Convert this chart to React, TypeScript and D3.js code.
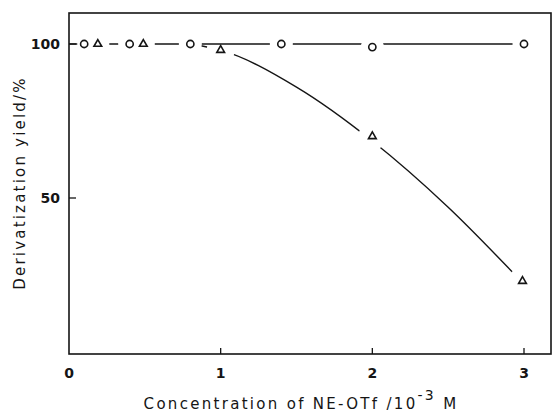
import React from "react";
import * as d3 from "d3";

// measured points (circles and triangles)
const circleX = [0.1, 0.4, 0.8, 1.4, 2.0, 3.0];
const circleY = [100, 100, 100, 100, 99, 100];
const triX = [0.19, 0.49, 1.0, 2.0, 2.99];
const triY = [100, 100, 98, 70, 23];

// hand-drawn fit curves
const flatFitX = [0, 3];
const flatFitY = [100, 100];
const curveFitX = [0.8, 1.0, 1.5, 2.0, 2.5, 3.0];
const curveFitY = [100, 98, 86, 68.5, 47, 22];

const xTicks = [0, 1, 2, 3];
const yTicks = [50, 100];

const W = 553;
const H = 413;
const left = 69;
const right = 551;
const top = 13;
const bottom = 354;
const font = "'DejaVu Sans', sans-serif";
const ink = "#151515";

const App = () => {
  const x = d3.scaleLinear().domain([0, 3]).range([69, 524]);
  const y = d3.scaleLinear().domain([0, 100]).range([352, 44]);

  const circles = circleX.map((v, i) => ({ x: v, y: circleY[i] }));
  const tris = triX.map((v, i) => ({ x: v, y: triY[i] }));

  const curvePath =
    d3
      .line<number>()
      .x((d) => x(d))
      .y((d, i) => y(curveFitY[i]))
      .curve(d3.curveMonotoneX)(curveFitX) || "";
  const flatPath =
    d3
      .line<number>()
      .x((d) => x(d))
      .y((d, i) => y(flatFitY[i]))(flatFitX) || "";

  const triPath = d3.symbol().type(d3.symbolTriangle).size(26)() || "";

  // gaps: the lines stop short of each marker
  const curveGaps = tris.filter((d) => d.x > 0.9);
  const flatGaps = [...circles, ...tris.filter((d) => d.y >= 99.5)];

  return (
    <svg
      width={W}
      height={H}
      style={{ position: "absolute", left: 0, top: 0, background: "white" }}
    >
      <rect x={0} y={0} width={W} height={H} fill="white" />
      <path d={curvePath} fill="none" stroke={ink} strokeWidth={1.4} />
      {curveGaps.map((d, i) => (
        <circle key={"cg" + i} cx={x(d.x)} cy={y(d.y)} r={14} fill="#ffffff" />
      ))}
      <path d={flatPath} fill="none" stroke={ink} strokeWidth={1.4} />
      {flatGaps.map((d, i) => (
        <circle key={"fg" + i} cx={x(d.x)} cy={y(d.y)} r={i === 0 ? 7 : 11.5} fill="#ffffff" />
      ))}

      <rect
        x={left}
        y={top}
        width={right - left}
        height={bottom - top}
        fill="none"
        stroke={ink}
        strokeWidth={1.6}
      />

      {xTicks
        .filter((t) => t > 0)
        .map((t) => (
          <line key={"xt" + t} x1={x(t)} x2={x(t)} y1={bottom} y2={bottom - 6} stroke={ink} strokeWidth={1.3} />
        ))}
      {yTicks.map((t) => (
        <line key={"yt" + t} x1={left} x2={left + 7} y1={y(t)} y2={y(t)} stroke={ink} strokeWidth={1.3} />
      ))}

      {xTicks.map((t) => (
        <text
          key={"xl" + t}
          x={x(t)}
          y={378}
          textAnchor="middle"
          fontFamily={font}
          fontSize={14}
          fontWeight="bold"
          fill={ink}
        >
          {t}
        </text>
      ))}
      {yTicks.map((t) => (
        <text
          key={"yl" + t}
          x={60}
          y={y(t) + 5}
          textAnchor="end"
          fontFamily={font}
          fontSize={14}
          fontWeight="bold"
          fill={ink}
        >
          {t}
        </text>
      ))}

      {circles.map((d, i) => (
        <circle key={"c" + i} cx={x(d.x)} cy={y(d.y)} r={3.6} fill="white" stroke={ink} strokeWidth={1.6} />
      ))}
      {tris.map((d, i) => (
        <path
          key={"t" + i}
          d={triPath}
          transform={`translate(${x(d.x)},${y(d.y)})`}
          fill="white"
          stroke={ink}
          strokeWidth={1.6}
        />
      ))}

      <text x={301} y={409} textAnchor="middle" fontFamily={font} fontSize={15} letterSpacing={2.3} fill={ink}>
        <tspan>Concentration of NE-OTf /10</tspan>
        <tspan dy={-9} fontSize={14}>
          -3
        </tspan>
        <tspan dy={9}>{"\u00a0M"}</tspan>
      </text>

      <text
        transform="translate(25,183) rotate(-90)"
        textAnchor="middle"
        fontFamily={font}
        fontSize={15}
        letterSpacing={2.2}
        fill={ink}
      >
        Derivatization yield/%
      </text>
    </svg>
  );
};

export default App;
